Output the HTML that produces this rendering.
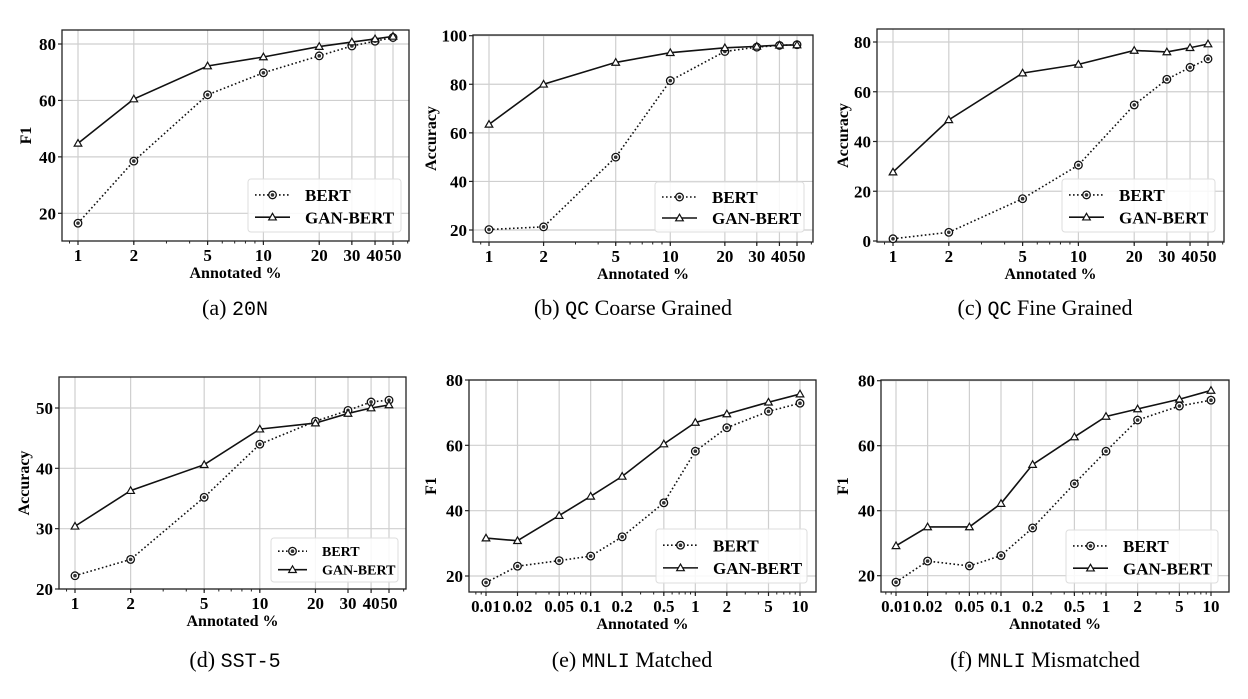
<!DOCTYPE html>
<html><head><meta charset="utf-8"><style>
body{margin:0;background:#fff;width:1248px;height:699px;overflow:hidden}
svg{display:block}
text{font-family:"Liberation Serif",serif}
.tk{font-weight:bold;font-size:17px}
.lab{font-weight:bold;font-size:16px}
.cap{font-size:22px}
.mono{font-family:"Liberation Mono",monospace;font-size:20px}
</style></head><body>
<svg id="fig" width="1248" height="699" xmlns="http://www.w3.org/2000/svg"></svg>
<script>
const xA=[1,2,5,10,20,30,40,50];
const xLblA=["1","2","5","10","20","30","40","50"];
const xM=[0.01,0.02,0.05,0.1,0.2,0.5,1,2,5,10];
const xLblM=["0.01","0.02","0.05","0.1","0.2","0.5","1","2","5","10"];
const bertA=[16.5,38.5,62,69.8,75.8,79.3,81,82.3];
const ganA=[44.8,60.5,72.2,75.4,79.1,80.7,81.8,82.7];
const bertB=[20.2,21.3,50,81.5,93.5,95.3,96,96.3];
const ganB=[63.5,80,89,93,95,95.6,96.1,96.2];
const bertC=[0.9,3.5,17,30.5,54.7,65,69.8,73.2];
const ganC=[27.7,48.7,67.5,71,76.6,76,77.7,79.2];
const bertD=[22.2,24.9,35.2,44,47.8,49.6,51,51.3];
const ganD=[30.4,36.3,40.6,46.5,47.5,49.1,50,50.5];
const bertE=[18,23,24.7,26.1,32,42.4,58.2,65.4,70.4,72.9];
const ganE=[31.6,30.8,38.5,44.4,50.5,60.4,67,69.6,73.2,75.7];
const bertF=[18,24.5,23,26.2,34.7,48.3,58.3,67.9,72.2,74];
const ganF=[29.2,35,35,42.2,54.2,62.7,69,71.3,74.3,77];
const yTA=[20,40,60,80], yTB=[20,40,60,80,100], yTC=[0,20,40,60,80], yTD=[20,30,40,50];

const NS="http://www.w3.org/2000/svg";
const fig=document.getElementById('fig');
function mk(p,tag,at){const e=document.createElementNS(NS,tag);for(const k in at)e.setAttribute(k,at[k]);p.appendChild(e);return e;}

function panel(cfg){
  const g=mk(fig,'g',{});
  
  
  const [L,R,T,B]=cfg.box;
  const lx0=Math.log10(cfg.xs[0]), lx1=Math.log10(cfg.xs[cfg.xs.length-1]);
  const X=v=>cfg.xp[0]+(Math.log10(v)-lx0)/(lx1-lx0)*(cfg.xp[1]-cfg.xp[0]);
  const Y=v=>cfg.yp[0]+(v-cfg.yv[0])/(cfg.yv[1]-cfg.yv[0])*(cfg.yp[1]-cfg.yp[0]);
  cfg.xs.forEach(v=>{const l=mk(g,'line',{x1:X(v),x2:X(v),y1:T,y2:B,stroke:'#cfcfcf','stroke-width':1.2});
    });
  cfg.yt.forEach(v=>{const l=mk(g,'line',{x1:L,x2:R,y1:Y(v),y2:Y(v),stroke:'#cfcfcf','stroke-width':1.2});
    });
  const lo=Math.floor(Math.log10(cfg.xs[0]))-1, hi=Math.ceil(lx1)+1;
  for(let e=lo;e<=hi;e++)for(let m=1;m<10;m++){const v=m*Math.pow(10,e);const px=X(v);
    if(px>L+1&&px<R-1) mk(g,'line',{x1:px,x2:px,y1:B,y2:B+2.5,stroke:'#222','stroke-width':1});}
  const fr=mk(g,'rect',{x:L,y:T,width:R-L,height:B-T,fill:'none',stroke:'#222','stroke-width':1.3});
  
  cfg.xs.forEach((v,i)=>{mk(g,'line',{x1:X(v),x2:X(v),y1:B,y2:B+4,stroke:'#222','stroke-width':1.2});
    const t=mk(g,'text',{x:X(v),y:B+20,'text-anchor':'middle',class:'tk'});t.textContent=cfg.xl[i];
    });
  cfg.yt.forEach(v=>{mk(g,'line',{x1:L-4,x2:L,y1:Y(v),y2:Y(v),stroke:'#222','stroke-width':1.2});
    const t=mk(g,'text',{x:L-6,y:Y(v)+6,'text-anchor':'end',class:'tk'});t.textContent=v;
    });
  const xt=mk(g,'text',{x:(L+R)/2,y:B+37,'text-anchor':'middle',class:'lab'});xt.textContent='Annotated %';
  
  const yt=mk(g,'text',{x:0,y:0,'text-anchor':'middle',class:'lab',transform:`translate(${cfg.ylx},${(T+B)/2}) rotate(-90)`});yt.textContent=cfg.ylab;
  
  const line=(vals,dash)=>mk(g,'polyline',{points:vals.map((v,i)=>X(cfg.xs[i])+','+Y(v)).join(' '),fill:'none',stroke:'#111','stroke-width':1.6,'stroke-dasharray':dash?'1.6,2.4':'none'});
  const pb=line(cfg.bert,true);
  const pg=line(cfg.gan,false);
  const circ=(gg,x,y)=>{mk(gg,'circle',{cx:x,cy:y,r:3.8,fill:'#fff',stroke:'#111','stroke-width':1.3});mk(gg,'circle',{cx:x,cy:y,r:1.8,fill:'#333'});};
  const tri=(gg,x,y)=>{mk(gg,'polygon',{points:`${x},${y-3.8} ${x-3.8},${y+2.8} ${x+3.8},${y+2.8}`,fill:'#fff',stroke:'#111','stroke-width':1.2});};
  cfg.bert.forEach((v,i)=>{const m=mk(g,'g',{});circ(m,X(cfg.xs[i]),Y(v));});
  cfg.gan.forEach((v,i)=>{const m=mk(g,'g',{});tri(m,X(cfg.xs[i]),Y(v));});
  const [a,b,c,d]=cfg.leg;const lg=mk(g,'g',{});
  
  mk(lg,'rect',{x:a,y:b,width:c-a,height:d-b,rx:3,fill:'rgba(255,255,255,0.85)',stroke:'#ddd'});
  const fs=cfg.lfs, h=d-b, y1=b+h*0.3, y2=b+h*0.72, lx=a+7, lw=(fs>14?35:29);
  const e1=mk(lg,'g',{});
  mk(e1,'line',{x1:lx,x2:lx+lw,y1:y1,y2:y1,stroke:'#111','stroke-width':1.6,'stroke-dasharray':'1.6,2.4'});circ(e1,lx+lw/2,y1);
  const t1=mk(e1,'text',{x:lx+lw+15,y:y1+fs*0.36,'font-weight':'bold','font-size':fs});t1.textContent='BERT';
  const e2=mk(lg,'g',{});
  mk(e2,'line',{x1:lx,x2:lx+lw,y1:y2,y2:y2,stroke:'#111','stroke-width':1.6});tri(e2,lx+lw/2,y2);
  const t2=mk(e2,'text',{x:lx+lw+15,y:y2+fs*0.36,'font-weight':'bold','font-size':fs});t2.textContent='GAN-BERT';
  const cp=mk(g,'text',{x:cfg.capx,y:cfg.capy,'text-anchor':'middle',class:'cap'});
  
  cp.innerHTML=cfg.cap;
}
panel({name:'panel-20n',box:[62,409,30,241],xs:xA,xl:xLblA,xp:[78,393],yv:[80,20],yp:[44,213.3],yt:yTA,bert:bertA,gan:ganA,ylab:'F1',ylx:31,leg:[248,179,401,232],lfs:17,capx:235,capy:315,cap:'(a) <tspan class="mono">20N</tspan>'});
panel({name:'panel-qc-coarse',box:[473,813,35,242],xs:xA,xl:xLblA,xp:[489,797],yv:[100,20],yp:[35.7,230],yt:yTB,bert:bertB,gan:ganB,ylab:'Accuracy',ylx:436,leg:[655,182,804,232],lfs:17,capx:633,capy:315,cap:'(b) <tspan class="mono">QC</tspan> Coarse Grained'});
panel({name:'panel-qc-fine',box:[877,1224,29,242],xs:xA,xl:xLblA,xp:[893,1208],yv:[80,0],yp:[42,241],yt:yTC,bert:bertC,gan:ganC,ylab:'Accuracy',ylx:848,leg:[1062,179,1215,232],lfs:17,capx:1045,capy:315,cap:'(c) <tspan class="mono">QC</tspan> Fine Grained'});
panel({name:'panel-sst5',box:[59,406,377,589],xs:xA,xl:xLblA,xp:[75,389],yv:[50,20],yp:[408,589],yt:yTD,bert:bertD,gan:ganD,ylab:'Accuracy',ylx:29,leg:[271,538,398,582],lfs:14,capx:235,capy:667,cap:'(d) <tspan class="mono">SST-5</tspan>'});
panel({name:'panel-mnli-matched',box:[469,816,380,592],xs:xM,xl:xLblM,xp:[486,800],yv:[80,20],yp:[380,576],yt:yTA,bert:bertE,gan:ganE,ylab:'F1',ylx:436,leg:[656,529,807,583],lfs:17,capx:632,capy:667,cap:'(e) <tspan class="mono">MNLI</tspan> Matched'});
panel({name:'panel-mnli-mismatched',box:[881,1229,380,592],xs:xM,xl:xLblM,xp:[896,1211],yv:[80,20],yp:[380.7,575.7],yt:yTA,bert:bertF,gan:ganF,ylab:'F1',ylx:848,leg:[1066,530,1218,583],lfs:17,capx:1045,capy:667,cap:'(f) <tspan class="mono">MNLI</tspan> Mismatched'});
</script>
</body></html>
